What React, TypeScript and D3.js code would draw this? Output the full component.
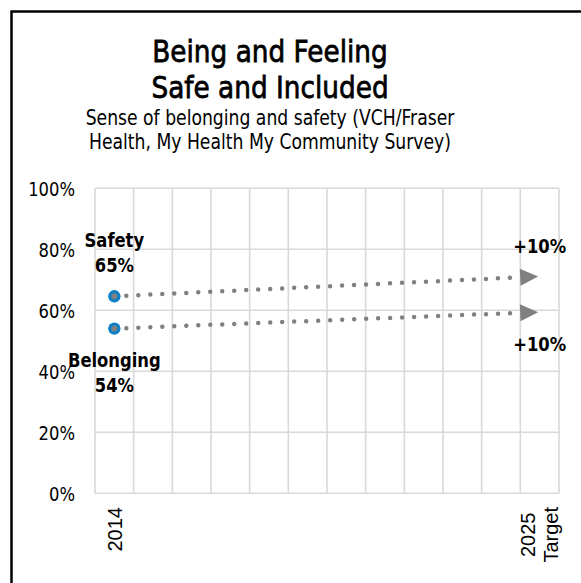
import * as d3 from 'd3'
import React, { useRef, useEffect } from 'react'

// Chart data
const categories = ['2014', '2015', '2016', '2017', '2018', '2019', '2020', '2021', '2022', '2023', '2024', '2025']
const categoryLabels = ['2014', '', '', '', '', '', '', '', '', '', '', '2025\nTarget']
const seriesNames = ['Safety', 'Belonging']
const startValues = [0.646, 0.54]
const targetValues = [0.711, 0.594]
const targetLabels = ['+10%', '+10%']
const yTicks = [0, 0.2, 0.4, 0.6, 0.8, 1]
const titleLines = ['Being and Feeling', 'Safe and Included']
const subtitleLines = ['Sense of belonging and safety (VCH/Fraser', 'Health, My Health My Community Survey)']

const W = 581
const H = 583
const SQUEEZE = 0.82
const FONT = '"DejaVu Sans", Verdana, sans-serif'

const App = () => {
  const ref = useRef<SVGSVGElement | null>(null)

  useEffect(() => {
    const svg = d3.select(ref.current)
    svg.selectAll('*').remove()

    const x = d3.scaleBand().domain(categories).range([95, 559]).padding(0)
    const y = d3.scaleLinear().domain([0, 1]).range([493.3, 188.3])
    const cx = (c: string) => (x(c) as number) + x.bandwidth() / 2

    // squeezed text helper
    const label = (g: any, tx: number, ty: number, txt: string, size: number, weight = 'normal', anchor = 'middle', sq = SQUEEZE) =>
      g.append('text')
        .attr('transform', `translate(${tx},${ty}) scale(${sq},1)`)
        .attr('text-anchor', anchor)
        .style('font-family', FONT)
        .style('font-size', `${size}px`)
        .style('font-weight', weight)
        .attr('fill', '#000')
        .text(txt)

    svg.append('rect').attr('width', W).attr('height', H).attr('fill', '#fff')

    // Chart border (runs off the right and bottom edges)
    svg.append('rect')
      .attr('x', 11.5).attr('y', 11.5)
      .attr('width', 700).attr('height', 700)
      .attr('fill', 'none').attr('stroke', '#000').attr('stroke-width', 2.5)

    // Titles
    titleLines.forEach((t, i) => {
      label(svg, 270, 61.7 + i * 36.5, t, 31, 'normal', 'middle', 0.85)
        .attr('stroke', '#000').attr('stroke-width', 0.8)
    })
    subtitleLines.forEach((t, i) => {
      label(svg, 270, 125 + i * 24.3, t, 21)
    })

    // Gridlines
    const grid = svg.append('g').attr('stroke', '#d9d9d9').attr('stroke-width', 1.6)
    yTicks.forEach(v => {
      grid.append('line').attr('x1', 95).attr('x2', 559).attr('y1', y(v)).attr('y2', y(v))
    })
    const bounds = categories.map(c => x(c) as number).concat([559])
    bounds.forEach(b => {
      grid.append('line').attr('x1', b).attr('x2', b).attr('y1', y(1)).attr('y2', y(0))
    })

    // Y axis labels
    yTicks.forEach(v => {
      label(svg, 75, y(v) + 7.3, d3.format('.0%')(v), 20, 'normal', 'end')
    })

    // X axis labels (rotated, multi-line centred in block)
    categories.forEach((c, i) => {
      const lines = categoryLabels[i] ? categoryLabels[i].split('\n') : []
      if (!lines.length) return
      const g = svg.append('g')
      const texts = lines.map(l => g.append('text')
        .style('font-family', '"Liberation Sans", Arial, sans-serif')
        .style('font-size', '20px')
        .attr('text-anchor', 'middle')
        .attr('fill', '#000')
        .text(l))
      const maxLen = d3.max(texts, (t: any) => t.node().getComputedTextLength()) as number
      const midY = 507 + maxLen / 2
      texts.forEach((t: any, k: number) => {
        const bx = cx(c) + 7.2 + (k - (lines.length - 1) / 2) * 23
        t.attr('transform', `translate(${bx},${midY}) rotate(-90)`)
      })
    })

    // Series: dotted arrows from 2014 to 2025 target
    const first = categories[0]
    const last = categories[categories.length - 1]
    seriesNames.forEach((name, i) => {
      const x0 = cx(first), y0 = y(startValues[i])
      const x1 = cx(last) - 1.5, y1 = y(targetValues[i])
      const ang = Math.atan2(y1 - y0, x1 - x0)
      const aLen = 18, aHalf = 8.5
      const bx = x1 - aLen * Math.cos(ang), by = y1 - aLen * Math.sin(ang)

      svg.append('line')
        .attr('x1', x0).attr('y1', y0).attr('x2', bx).attr('y2', by)
        .attr('stroke', '#808080').attr('stroke-width', 4.5)
        .attr('stroke-linecap', 'round').attr('stroke-dasharray', '0 12')

      const pts = [
        [x1, y1],
        [bx - aHalf * Math.sin(ang), by + aHalf * Math.cos(ang)],
        [bx + aHalf * Math.sin(ang), by - aHalf * Math.cos(ang)]
      ]
      svg.append('polygon').attr('points', pts.map(p => p.join(',')).join(' ')).attr('fill', '#808080')

      // marker at 2014
      svg.append('circle').attr('cx', x0).attr('cy', y0).attr('r', 6.2).attr('fill', '#0f80c6')
      svg.append('circle').attr('cx', x0).attr('cy', y0).attr('r', 3).attr('fill', '#808080')

      // data labels: first series above, second below
      const startLines = [name, d3.format('.0%')(Math.round(startValues[i] * 100) / 100)]
      const above = i === 0
      startLines.forEach((t, k) => {
        const ty = above
          ? y0 - 24 - (startLines.length - 1 - k) * 25.5
          : y0 + 38 + k * 25.5
        label(svg, x0, ty, t, 20, 'bold')
      })
      label(svg, cx(last), above ? y1 - 23 : y1 + 38.5, targetLabels[i], 20, 'bold')
    })
  }, [])

  return (
    <svg ref={ref} width={W} height={H} style={{ position: 'absolute', left: 0, top: 0, display: 'block' }} />
  )
}

export default App
